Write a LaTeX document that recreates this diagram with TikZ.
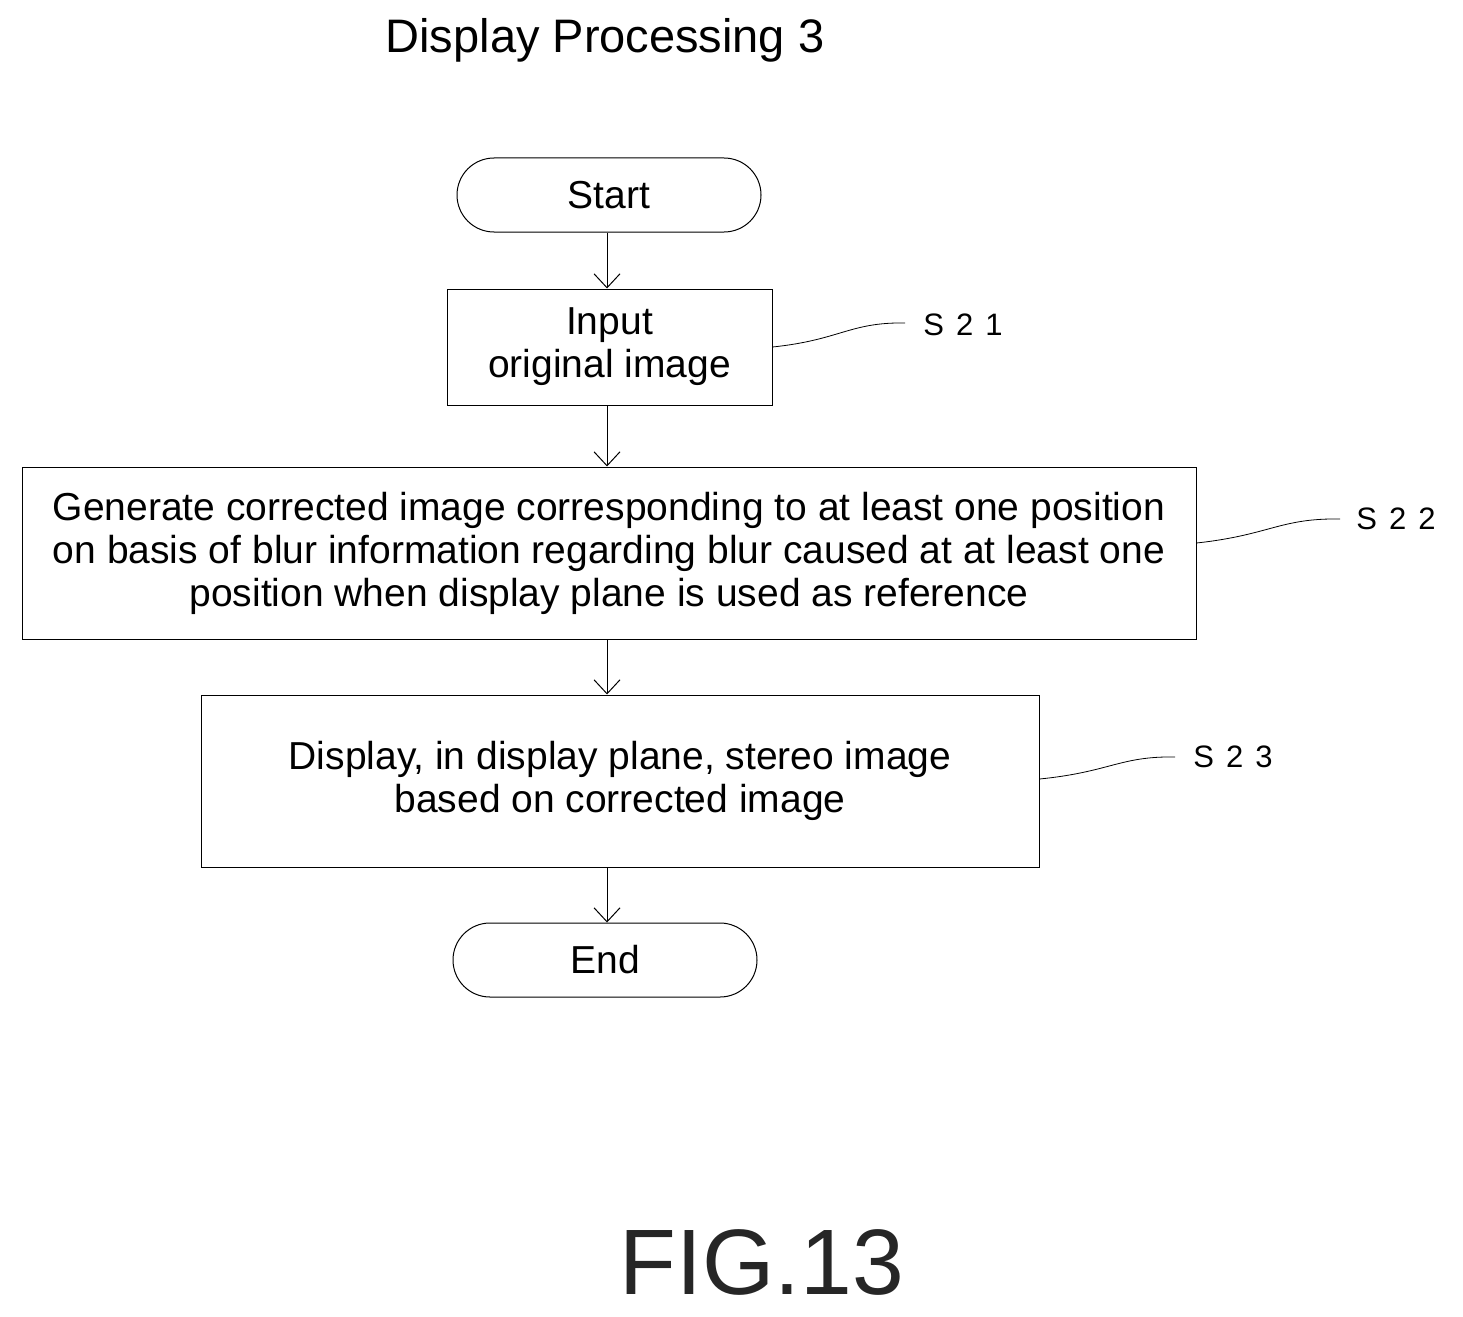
\documentclass[tikz,border=0pt]{standalone}
\usepackage{fontspec}
\setmainfont{Liberation Sans}
\usetikzlibrary{arrows.meta}
\begin{document}
\begin{tikzpicture}[x=1pt,y=-1pt,
  box/.style={draw,line width=1pt,inner sep=0pt,align=center,font=\fontsize{39}{43}\selectfont},
  term/.style={box,rounded corners=37pt},
  lbl/.style={font=\fontsize{31}{36}\selectfont},
  arr/.style={line width=1pt,-{Straight Barb[length=14pt,width=26pt,line width=1pt]}},
  lead/.style={line width=0.8pt}]
\useasboundingbox (0,0) rectangle (1463,1316);
\node[font=\fontsize{47}{52}\selectfont] (title) at (605,40) {Display Processing 3};
\node[term,minimum width=304pt,minimum height=74pt] (start) at (609,195) {Start};
\node[box,minimum width=325pt,minimum height=116pt] (s21) at (609.5,347) {Input\\original image};
\node[box,minimum width=1174pt,minimum height=172pt] (s22) at (609,553) {Generate corrected image corresponding to at least one position\\on basis of blur information regarding blur caused at at least one\\position when display plane is used as reference};
\node[box,minimum width=838pt,minimum height=172pt] (s23) at (620,781) {Display, in display plane, stereo image\\based on corrected image};
\node[term,minimum width=304pt,minimum height=74pt] (end) at (605,960) {End};
\draw[arr] (start.south -| 607,0) -- (s21.north -| 607,0);
\draw[arr] (s21.south -| 607,0) -- (s22.north -| 607,0);
\draw[arr] (s22.south -| 607,0) -- (s23.north -| 607,0);
\draw[arr] (s23.south -| 607,0) -- (end.north -| 607,0);
\node[lbl] (l21) at (963,325) {S\hspace{12pt}2\hspace{12pt}1};
\node[lbl] (l22) at (1396,519) {S\hspace{12pt}2\hspace{12pt}2};
\node[lbl] (l23) at (1233,757) {S\hspace{12pt}2\hspace{12pt}3};
\coordinate (a21) at (s21.east |- 0,347);
\coordinate (a22) at (s22.east |- 0,543);
\coordinate (a23) at (s23.east |- 0,779);
\draw[lead] (a21) .. controls (840,340) and (850,322) .. (905,323);
\draw[lead] (a22) .. controls (1270,535) and (1280,518) .. (1340,519);
\draw[lead] (a23) .. controls (1110,772) and (1120,756) .. (1175,757);
\node[font=\fontsize{93}{100}\selectfont,text=black!85] (fig) at (762,1262) {FIG.13};
\end{tikzpicture}
\end{document}
